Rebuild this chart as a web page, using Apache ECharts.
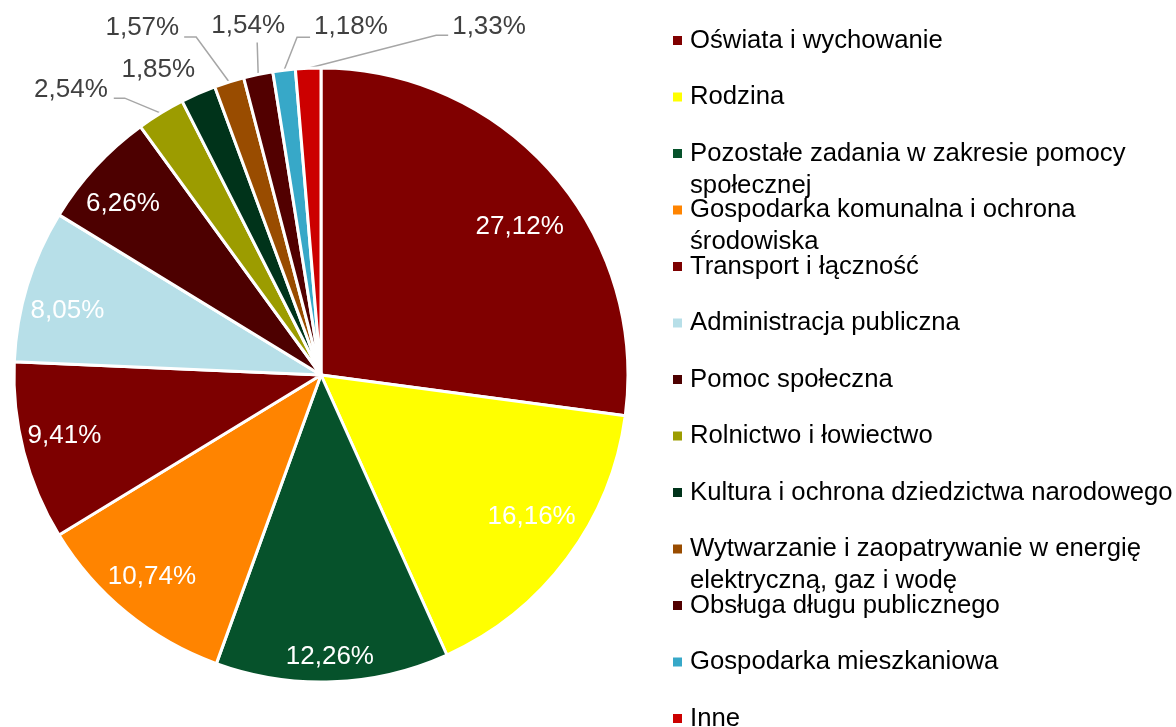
<!DOCTYPE html>
<html>
<head>
<meta charset="utf-8">
<script src="https://cdn.jsdelivr.net/npm/echarts@6/dist/echarts.min.js"></script>
<style>
html, body { margin: 0; padding: 0; background: #ffffff; }
#chart { width: 1176px; height: 727px; }
</style>
</head>
<body>
<div id="chart"></div>
<script>
// ---- data ----
const categories = [
  'Oświata i wychowanie',
  'Rodzina',
  'Pozostałe zadania w zakresie pomocy społecznej',
  'Gospodarka komunalna i ochrona środowiska',
  'Transport i łączność',
  'Administracja publiczna',
  'Pomoc społeczna',
  'Rolnictwo i łowiectwo',
  'Kultura i ochrona dziedzictwa narodowego',
  'Wytwarzanie i zaopatrywanie w energię elektryczną, gaz i wodę',
  'Obsługa długu publicznego',
  'Gospodarka mieszkaniowa',
  'Inne'
];
const values = [27.12, 16.16, 12.26, 10.74, 9.41, 8.05, 6.26, 2.54, 1.85, 1.57, 1.54, 1.18, 1.33];

// ---- styles ----
const colors = [
  '#800000', '#FFFF00', '#06522B', '#FF8400', '#7D0000', '#B7DFE8', '#4D0000',
  '#9C9C00', '#00331A', '#994C00', '#520000', '#37A8C8', '#CC0000'
];
// callout label offsets (relative to the slice edge anchor given by the library); null = label inside
const callouts = [
  null, null, null, null, null, null, null,
  { bend: [-36, -15], end: [-47, -15], text: [-53, -23], align: 'right' },
  { bend: null, end: null, text: [-40, -24], align: 'center' },
  { bend: [-33, -45], end: [-45, -45], text: [-50, -54], align: 'right' },
  { bend: [-1, -32], end: [-1, -32], text: [-10, -49], align: 'center' },
  { bend: [13, -33], end: [26, -33], text: [30, -43], align: 'left' },
  { bend: [128, -33], end: [140, -33], text: [144, -41], align: 'left' }
];
// small nudges of inside labels (best-fit placement)
const insideNudge = [
  [0, 26], [-1, -16], [-1, 18], [-2, -3], [-1, -5], [-1, 13], [-4, 8],
  null, null, null, null, null, null
];

const FONT = "'Liberation Sans', Arial, sans-serif";
const fmt = v => v.toFixed(2).replace('.', ',') + '%';

const legends = categories.map((name, i) => ({
  data: [name],
  orient: 'vertical',
  left: 671,
  top: 27.5 + 56.5 * i,
  padding: 0,
  itemWidth: 11,
  itemHeight: 11,
  icon: 'rect',
  selectedMode: false,
  formatter: n => '{t|' + n + '}',
  textStyle: {
    width: 495,
    overflow: 'break',
    height: 32,
    padding: [0, 0, 0, 2],
    rich: { t: { fontSize: 25.7, lineHeight: 32, color: '#000000', fontFamily: FONT } }
  }
}));

const chart = echarts.init(document.getElementById('chart'));
chart.setOption({
  animation: false,
  backgroundColor: '#ffffff',
  legend: legends,
  series: [
    {
      type: 'pie',
      center: [321, 375],
      radius: 307,
      startAngle: 90,
      clockwise: true,
      avoidLabelOverlap: false,
      emphasis: { disabled: true },
      itemStyle: { borderColor: '#ffffff', borderWidth: 3 },
      label: {
        position: 'outside',
        fontSize: 26,
        color: '#404040',
        fontFamily: FONT,
        formatter: p => fmt(p.value)
      },
      labelLine: { length: 10, length2: 10, lineStyle: { color: '#A6A6A6', width: 1.5 } },
      labelLayout: function (params) {
        const c = callouts[params.dataIndex];
        if (!c || !params.labelLinePoints) return {};
        const a = params.labelLinePoints[0];
        const P = d => [a[0] + d[0], a[1] + d[1]];
        return {
          x: a[0] + c.text[0],
          y: a[1] + c.text[1],
          align: c.align,
          verticalAlign: 'middle',
          labelLinePoints: c.bend ? [a, P(c.bend), P(c.end)] : [a, a, a]
        };
      },
      data: categories.map((name, i) => ({
        name: name,
        value: values[i],
        itemStyle: { color: colors[i] },
        label: { show: !!callouts[i] },
        labelLine: { show: !!callouts[i] }
      }))
    },
    {
      type: 'pie',
      center: [321, 375],
      radius: [215, 307],
      startAngle: 90,
      clockwise: true,
      silent: true,
      emphasis: { disabled: true },
      itemStyle: { color: 'rgba(0,0,0,0)', borderWidth: 0 },
      label: {
        position: 'inside',
        fontSize: 26,
        color: '#ffffff',
        fontFamily: FONT,
        formatter: p => fmt(p.value)
      },
      labelLine: { show: false },
      labelLayout: function (params) {
        const n = insideNudge[params.dataIndex];
        return n ? { dx: n[0], dy: n[1] } : {};
      },
      data: categories.map((name, i) => ({
        name: name,
        value: values[i],
        label: { show: !callouts[i] }
      }))
    }
  ]
});
</script>
</body>
</html>
